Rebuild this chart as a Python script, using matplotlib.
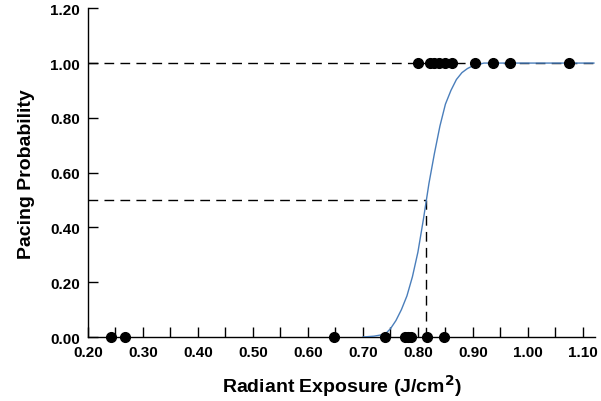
import matplotlib
matplotlib.use('Agg')
import matplotlib.pyplot as plt

# observed outcomes (1 = paced, 0 = not paced)
paced_x = [0.801, 0.822, 0.830, 0.839, 0.850, 0.862, 0.904, 0.937, 0.967, 1.074]
paced_y = [1.0] * len(paced_x)
not_paced_x = [0.241, 0.268, 0.648, 0.741, 0.776, 0.782, 0.788, 0.816, 0.848]
not_paced_y = [0.0] * len(not_paced_x)

# fitted probability curve
curve_x = [0.70, 0.72, 0.74, 0.75, 0.76, 0.77, 0.78, 0.79, 0.80, 0.81, 0.82,
           0.83, 0.84, 0.85, 0.86, 0.87, 0.88, 0.89, 0.90, 0.92, 0.95, 1.00, 1.12]
curve_y = [0.0, 0.003, 0.01, 0.03, 0.06, 0.10, 0.15, 0.22, 0.31, 0.43, 0.56,
           0.67, 0.77, 0.85, 0.90, 0.94, 0.965, 0.98, 0.99, 1.0, 1.0, 1.0, 1.0]

threshold_x = 0.815
threshold_p = 0.5
y_ticks = [0.00, 0.20, 0.40, 0.60, 0.80, 1.00, 1.20]

plt.rcParams['font.family'] = ['Liberation Sans', 'DejaVu Sans']
plt.rcParams['font.weight'] = 'bold'

fig = plt.figure(figsize=(6.01, 4.02), dpi=100)
ax = fig.add_axes([0.1464, 0.1592, 0.8436, 0.8177])

dash = (0, (7, 4.5))
ax.plot([0.2, 1.125], [1.0, 1.0], color='black', lw=1, linestyle=dash, zorder=2)
ax.plot([0.2, threshold_x], [threshold_p, threshold_p], color='black', lw=1,
        linestyle=dash, zorder=2)
ax.plot([threshold_x, threshold_x], [0, threshold_p], color='black', lw=1,
        linestyle=dash, zorder=2)

ax.plot(curve_x, curve_y, color='#4a7ebb', lw=1, zorder=3)

ax.plot(paced_x, paced_y, 'o', color='black', ms=7, lw=0, clip_on=False, zorder=4)
ax.plot(not_paced_x, not_paced_y, 'o', color='black', ms=7, lw=0, clip_on=False,
        zorder=4)

ax.set_xlim(0.2, 1.122)
ax.set_ylim(0, 1.2)
ax.set_xticks([0.2 + 0.05 * i for i in range(19)])
ax.set_xticklabels([('%.2f' % (0.2 + 0.05 * i)) if i % 2 == 0 else ''
                    for i in range(19)])
ax.set_yticks(y_ticks)
ax.set_yticklabels(['%.2f' % v for v in y_ticks])
ax.tick_params(direction='in', length=7, width=1, labelsize=11, pad=6)
for lbl in ax.get_xticklabels() + ax.get_yticklabels():
    lbl.set_fontweight('bold')

ax.spines['top'].set_visible(False)
ax.spines['right'].set_visible(False)
ax.spines['left'].set_linewidth(1)
ax.spines['bottom'].set_linewidth(1)

ax.set_xlabel('Radiant Exposure (J/cm$^{\\mathbf{2}}$)', fontsize=14,
              fontweight='bold', labelpad=9)
ax.set_ylabel('Pacing Probability', fontsize=14, fontweight='bold', labelpad=11)

fig.savefig('out.png', dpi=100)
